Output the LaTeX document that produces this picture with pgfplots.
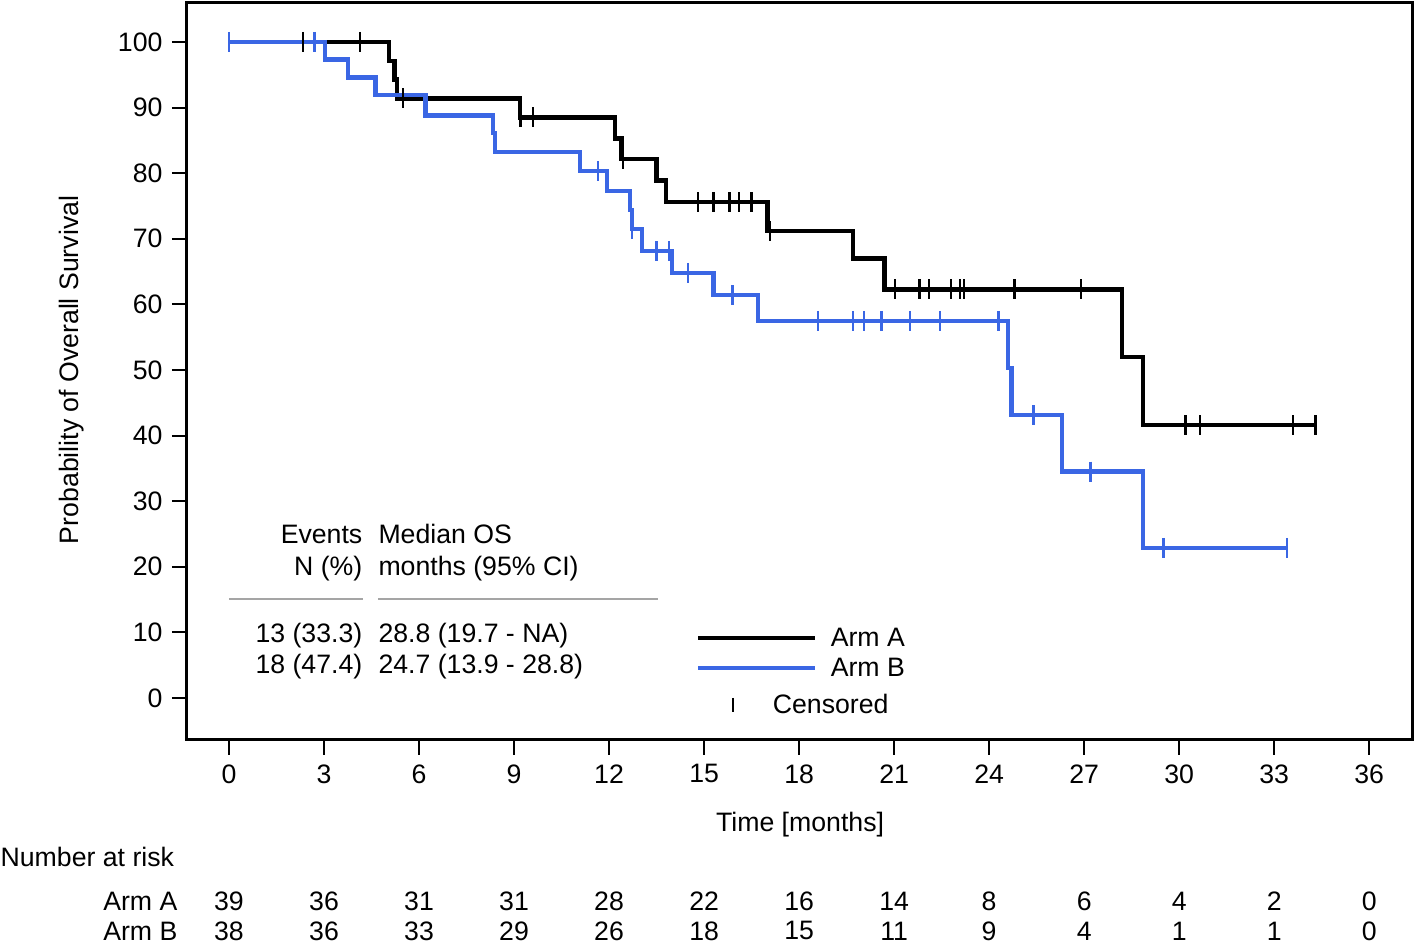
\documentclass[border=0pt]{standalone}
\usepackage{pgfplots}
\pgfplotsset{compat=1.18}
\usepackage{fontspec}
\setmainfont{Liberation Sans}
\definecolor{armb}{RGB}{58,102,228}
\definecolor{rulegray}{RGB}{165,165,165}

\begin{document}
\fontsize{8}{9.6}\selectfont
\begin{tikzpicture}[font=\fontsize{8}{9.6}\selectfont]
\begin{axis}[
 scale only axis, width=367.5pt, height=221.1pt,
 xmin=-1.326, xmax=37.35, ymin=-6.4, ymax=105.95,
 xtick={0,3,...,36}, ytick={0,10,...,100},
 tick align=outside, tick pos=left, major tick length=4.5pt,
 axis line style={line width=0.9pt},
 every tick/.style={black, line width=0.6pt},
 clip=false,
 /pgf/number format/assume math mode=true,
 tick label style={font=\fontsize{8}{9.6}\selectfont},
 xlabel={Time [months]}, ylabel={Probability of Overall Survival},
 xlabel style={at={(axis cs:18.03,-19.3)}, anchor=center},
 ylabel style={at={(axis cs:-4.96,50)}, anchor=center},
 const plot mark left,
]
% Arm A
\addplot[black, line width=1.35pt, no marks] coordinates {
(0,100) (5.05,97.1) (5.22,94.3) (5.3,91.4) (9.19,88.5) (12.19,85.3) (12.4,82.2)
(13.5,78.9) (13.8,75.6) (17.0,71.2) (19.7,67.0) (20.7,62.3) (28.2,52.0) (28.86,41.6) (34.3,41.6)};
% Arm B
\addplot[armb, line width=1.35pt, no marks] coordinates {
(0,100) (3.03,97.3) (3.75,94.6) (4.63,91.9) (6.2,88.8) (8.34,86.1) (8.4,83.2)
(11.08,80.3) (11.93,77.3) (12.66,74.4) (12.72,71.5) (13.04,68.1) (13.98,64.8)
(15.29,61.4) (16.7,57.5) (24.6,50.3) (24.7,43.1) (26.3,34.5) (28.86,22.9) (33.4,22.9)};
% censored A
\addplot[black, only marks, mark=|, mark size=3pt, mark options={line width=0.7pt}] coordinates {
(2.34,100) (4.14,100) (5.5,91.4) (9.2,88.5) (9.6,88.5) (12.44,82.2)
(14.8,75.6) (15.3,75.6) (15.8,75.6) (16.1,75.6) (16.5,75.6) (17.08,71.2)
(21.03,62.3) (21.8,62.3) (22.1,62.3) (22.8,62.3) (23.08,62.3) (23.2,62.3)
(24.8,62.3) (26.9,62.3) (30.2,41.6) (30.66,41.6) (33.6,41.6) (34.3,41.6)};
% censored B
\addplot[armb, only marks, mark=|, mark size=3pt, mark options={line width=0.7pt}] coordinates {
(0,100) (2.7,100) (11.65,80.3) (12.72,71.5) (13.5,68.1) (13.9,68.1) (14.5,64.8)
(15.9,61.4) (18.6,57.5) (19.7,57.5) (20.05,57.5) (20.6,57.5) (21.5,57.5)
(22.45,57.5) (24.3,57.5) (25.4,43.1) (27.2,34.5) (29.5,22.9) (33.4,22.9)};

% summary table
\node[anchor=base east, inner sep=0pt] at (axis cs:4.23,23.5) {Events};
\node[anchor=base east, inner sep=0pt] at (axis cs:4.23,18.6) {N (\%)};
\node[anchor=base west, inner sep=0pt] at (axis cs:4.70,23.5) {Median OS};
\node[anchor=base west, inner sep=0pt] at (axis cs:4.70,18.6) {months (95\% CI)};
\draw[rulegray, line width=0.8pt] (axis cs:0,15.1) -- (axis cs:4.23,15.1);
\draw[rulegray, line width=0.8pt] (axis cs:4.70,15.1) -- (axis cs:13.55,15.1);
\node[anchor=base east, inner sep=0pt] at (axis cs:4.23,8.5) {13 (33.3)};
\node[anchor=base west, inner sep=0pt] at (axis cs:4.70,8.5) {28.8 (19.7 - NA)};
\node[anchor=base east, inner sep=0pt] at (axis cs:4.23,3.8) {18 (47.4)};
\node[anchor=base west, inner sep=0pt] at (axis cs:4.70,3.8) {24.7 (13.9 - 28.8)};

% legend
\draw[black, line width=1.35pt] (axis cs:14.81,9.15) -- (axis cs:18.5,9.15);
\node[anchor=base west, inner sep=0pt] at (axis cs:18.98,7.8) {Arm A};
\draw[armb, line width=1.35pt] (axis cs:14.81,4.57) -- (axis cs:18.5,4.57);
\node[anchor=base west, inner sep=0pt] at (axis cs:18.98,3.2) {Arm B};
\draw[black, line width=0.6pt] (axis cs:15.91,0.0) -- (axis cs:15.91,-2.2);
\node[anchor=base west, inner sep=0pt] at (axis cs:17.15,-2.44) {Censored};

% number at risk
\node[anchor=west, inner sep=0pt] at (axis cs:-7.23,-24.2) {Number at risk};
\node[anchor=east, inner sep=0pt] at (axis cs:-1.61,-30.95) {Arm A};
\node[anchor=east, inner sep=0pt] at (axis cs:-1.61,-35.5) {Arm B};
\node at (axis cs:0,-30.95) {39}; \node at (axis cs:3,-30.95) {36};
\node at (axis cs:6,-30.95) {31}; \node at (axis cs:9,-30.95) {31};
\node at (axis cs:12,-30.95) {28}; \node at (axis cs:15,-30.95) {22};
\node at (axis cs:18,-30.95) {16}; \node at (axis cs:21,-30.95) {14};
\node at (axis cs:24,-30.95) {8}; \node at (axis cs:27,-30.95) {6};
\node at (axis cs:30,-30.95) {4}; \node at (axis cs:33,-30.95) {2};
\node at (axis cs:36,-30.95) {0};
\node at (axis cs:0,-35.5) {38}; \node at (axis cs:3,-35.5) {36};
\node at (axis cs:6,-35.5) {33}; \node at (axis cs:9,-35.5) {29};
\node at (axis cs:12,-35.5) {26}; \node at (axis cs:15,-35.5) {18};
\node at (axis cs:18,-35.5) {15}; \node at (axis cs:21,-35.5) {11};
\node at (axis cs:24,-35.5) {9}; \node at (axis cs:27,-35.5) {4};
\node at (axis cs:30,-35.5) {1}; \node at (axis cs:33,-35.5) {1};
\node at (axis cs:36,-35.5) {0};

\path (axis cs:-7.23,106.4) rectangle (axis cs:37.54,-37.35);
\end{axis}
\end{tikzpicture}
\end{document}
